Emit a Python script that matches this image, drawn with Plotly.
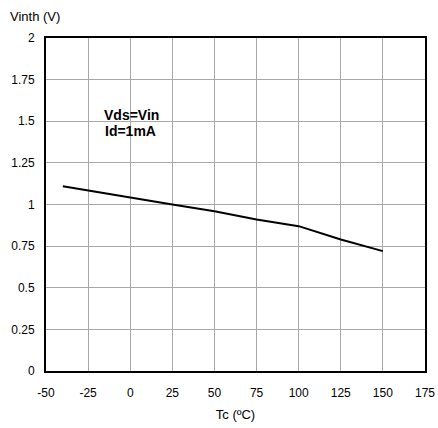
import plotly.graph_objects as go

tc = [-40, 0, 25, 50, 75, 100, 125, 150]
vinth = [1.11, 1.04, 1.0, 0.96, 0.91, 0.87, 0.79, 0.72]

x_ticks = [-50, -25, 0, 25, 50, 75, 100, 125, 150, 175]
y_ticks = [0, 0.25, 0.5, 0.75, 1, 1.25, 1.5, 1.75, 2]
y_labels = ["0", "0.25", "0.5", "0.75", "1", "1.25", "1.5", "1.75", "2"]

font = "Liberation Sans, Arial, sans-serif"

fig = go.Figure()
fig.add_trace(go.Scatter(x=tc, y=vinth, mode="lines",
                         line=dict(color="black", width=2), showlegend=False))

fig.update_layout(
    width=438, height=428,
    margin=dict(l=46, r=13, t=38, b=57, autoexpand=False),
    paper_bgcolor="white", plot_bgcolor="white",
    font=dict(family=font, size=12, color="black"),
    xaxis=dict(range=[-50, 175], tickvals=x_ticks, ticktext=[str(v) for v in x_ticks],
               showgrid=True, gridcolor="#a8a8a8", gridwidth=1,
               showline=True, linecolor="black", linewidth=2, mirror=True,
               ticks="outside", ticklen=10, tickcolor="rgba(0,0,0,0)",
               zeroline=False, automargin=False,
               title=dict(text="Tc (ºC)", font=dict(size=13), standoff=10)),
    yaxis=dict(range=[0, 2], tickvals=y_ticks, ticktext=y_labels,
               showgrid=True, gridcolor="#a8a8a8", gridwidth=1,
               showline=True, linecolor="black", linewidth=2, mirror=True,
               ticks="outside", ticklen=7, tickcolor="rgba(0,0,0,0)",
               zeroline=False, automargin=False),
    annotations=[
        dict(text="Vinth (V)", xref="paper", yref="paper", x=-46/379, y=1 + 21/333,
             xanchor="left", yanchor="middle", showarrow=False,
             xshift=8, font=dict(size=13)),
        dict(text="<b>Vds=Vin</b>", xref="x", yref="y", x=0.5, y=1.54,
             showarrow=False, font=dict(size=14)),
        dict(text="<b>Id=1mA</b>", xref="x", yref="y", x=0, y=1.44,
             showarrow=False, font=dict(size=14)),
    ],
)

fig.write_html("out.html",
               config={"displayModeBar": False},
               post_script="document.body.style.margin='0';document.body.style.overflow='hidden';")
